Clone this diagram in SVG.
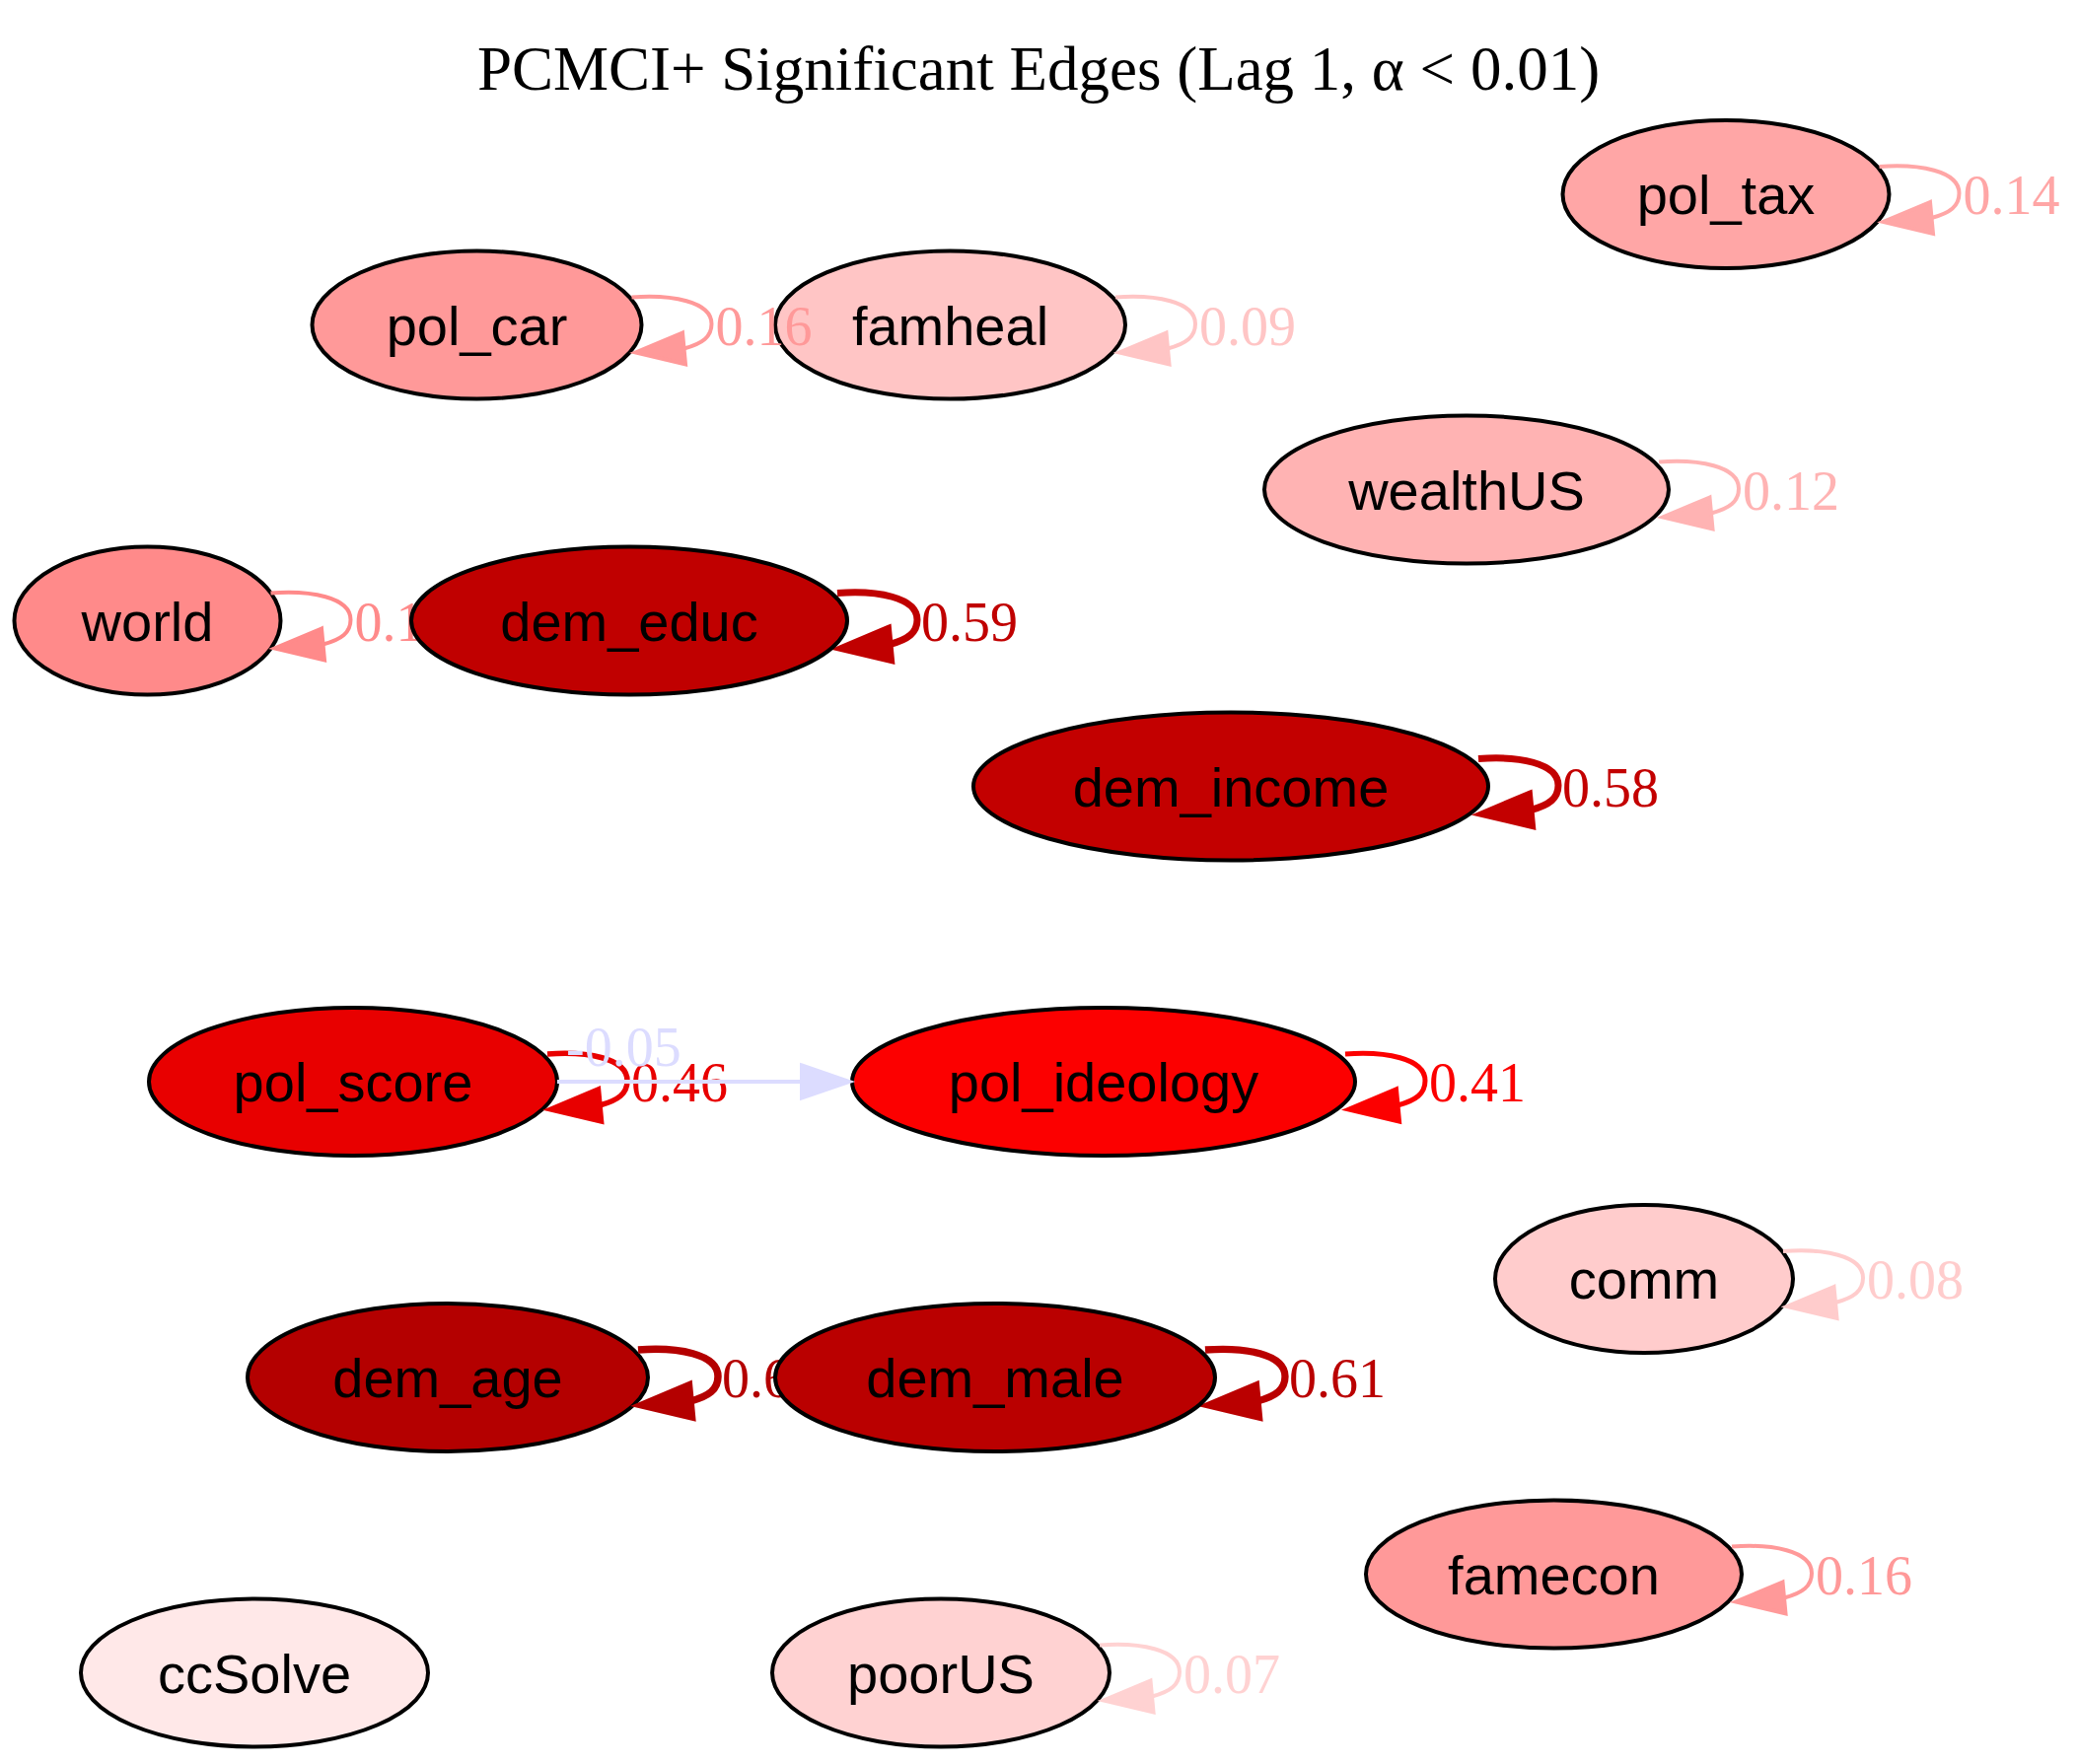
<svg xmlns="http://www.w3.org/2000/svg" width="2107" height="1789" viewBox="0 0 2107 1789">
<style>
.node ellipse{stroke:#000;stroke-width:4}
.node text{font-family:"Liberation Sans",Arial,sans-serif;font-size:56px;text-anchor:middle;fill:#000}
.edge path{fill:none}
.edge text{font-family:"Liberation Serif","Times New Roman",serif;font-size:56px}
.title{font-family:"Liberation Serif","Times New Roman",serif;font-size:63px;text-anchor:middle;fill:#000}
</style>
<rect width="2107" height="1789" fill="#fff"/>
<text class="title" x="1053" y="91">PCMCI+ Significant Edges (Lag 1, α &lt; 0.01)</text>

<g id="node-pol_tax" class="node"><ellipse cx="1750" cy="197" rx="165.5" ry="75" fill="#ffa6a6"/><text x="1750" y="217">pol_tax</text></g>
<g id="node-pol_car" class="node"><ellipse cx="483.5" cy="329.5" rx="167" ry="75" fill="#ff9999"/><text x="483.5" y="349.5">pol_car</text></g>
<g id="node-famheal" class="node"><ellipse cx="963.5" cy="329.5" rx="177.5" ry="75" fill="#ffc5c5"/><text x="963.5" y="349.5">famheal</text></g>
<g id="node-wealthUS" class="node"><ellipse cx="1487" cy="496.5" rx="205" ry="75" fill="#ffb3b3"/><text x="1487" y="516.5">wealthUS</text></g>
<g id="node-world" class="node"><ellipse cx="149.5" cy="629.5" rx="135" ry="75" fill="#ff8a8a"/><text x="149.5" y="649.5">world</text></g>
<g id="node-dem_income" class="node"><ellipse cx="1248" cy="797.5" rx="261" ry="75" fill="#c30000"/><text x="1248" y="817.5">dem_income</text></g>
<g id="node-pol_score" class="node"><ellipse cx="358" cy="1097" rx="207" ry="75" fill="#e80000"/><text x="358" y="1117">pol_score</text></g>
<g id="node-pol_ideology" class="node"><ellipse cx="1119" cy="1097" rx="255" ry="75" fill="#fc0000"/><text x="1119" y="1117">pol_ideology</text></g>
<g id="node-comm" class="node"><ellipse cx="1667" cy="1297" rx="151" ry="75" fill="#ffcccc"/><text x="1667" y="1317">comm</text></g>
<g id="node-dem_age" class="node"><ellipse cx="454" cy="1397" rx="203" ry="75" fill="#b40000"/><text x="454" y="1417">dem_age</text></g>
<g id="node-famecon" class="node"><ellipse cx="1575.5" cy="1596.5" rx="190.5" ry="75" fill="#ff9999"/><text x="1575.5" y="1616.5">famecon</text></g>
<g id="node-ccSolve" class="node"><ellipse cx="258" cy="1696.5" rx="176" ry="75" fill="#ffe8e8"/><text x="258" y="1716.5">ccSolve</text></g>
<g id="node-poorUS" class="node"><ellipse cx="954" cy="1696.5" rx="171" ry="75" fill="#ffd2d2"/><text x="954" y="1716.5">poorUS</text></g>

<g id="connectors">
<g class="edge" id="edge-pol_tax"><path d="M1905.5,169 C1945.5,166 1986.5,173 1986.5,196 C1986.5,209 1977.5,216 1958.5,221" stroke="#ffa6a6" stroke-width="4"/><polygon points="1957,205 1909.5,225 1960,237" fill="#ffa6a6" stroke="#ffa6a6" stroke-width="4"/><text x="1990.5" y="217" fill="#ffa6a6">0.14</text></g>
<g class="edge" id="edge-pol_car"><path d="M640.5,301.5 C680.5,298.5 721.5,305.5 721.5,328.5 C721.5,341.5 712.5,348.5 693.5,353.5" stroke="#ff9999" stroke-width="4"/><polygon points="692,337.5 644.5,357.5 695,369.5" fill="#ff9999" stroke="#ff9999" stroke-width="4"/><text x="725.5" y="349.5" fill="#ff9999">0.16</text></g>
<g class="edge" id="edge-famheal"><path d="M1131,301.5 C1171,298.5 1212,305.5 1212,328.5 C1212,341.5 1203,348.5 1184,353.5" stroke="#ffc5c5" stroke-width="4"/><polygon points="1182.5,337.5 1135,357.5 1185.5,369.5" fill="#ffc5c5" stroke="#ffc5c5" stroke-width="4"/><text x="1216" y="349.5" fill="#ffc5c5">0.09</text></g>
<g class="edge" id="edge-wealthUS"><path d="M1682,468.5 C1722,465.5 1763,472.5 1763,495.5 C1763,508.5 1754,515.5 1735,520.5" stroke="#ffb3b3" stroke-width="4"/><polygon points="1733.5,504.5 1686,524.5 1736.5,536.5" fill="#ffb3b3" stroke="#ffb3b3" stroke-width="4"/><text x="1767" y="516.5" fill="#ffb3b3">0.12</text></g>
<g class="edge" id="edge-world"><path d="M274.5,601.5 C314.5,598.5 355.5,605.5 355.5,628.5 C355.5,641.5 346.5,648.5 327.5,653.5" stroke="#ff8a8a" stroke-width="4"/><polygon points="326,637.5 278.5,657.5 329,669.5" fill="#ff8a8a" stroke="#ff8a8a" stroke-width="4"/><text x="359.5" y="649.5" fill="#ff8a8a">0.18</text></g>
<g class="edge" id="edge-dem_educ"><path d="M849,601.5 C889,598.5 930,605.5 930,628.5 C930,641.5 921,648.5 902,653.5" stroke="#c00000" stroke-width="7"/><polygon points="900.5,637.5 853,657.5 903.5,669.5" fill="#c00000" stroke="#c00000" stroke-width="7"/><text x="934" y="649.5" fill="#c00000">0.59</text></g>
<g class="edge" id="edge-dem_income"><path d="M1499,769.5 C1539,766.5 1580,773.5 1580,796.5 C1580,809.5 1571,816.5 1552,821.5" stroke="#c30000" stroke-width="7"/><polygon points="1550.5,805.5 1503,825.5 1553.5,837.5" fill="#c30000" stroke="#c30000" stroke-width="7"/><text x="1584" y="817.5" fill="#c30000">0.58</text></g>
<g class="edge" id="edge-pol_score"><path d="M555,1069 C595,1066 636,1073 636,1096 C636,1109 627,1116 608,1121" stroke="#e80000" stroke-width="5.5"/><polygon points="606.5,1105 559,1125 609.5,1137" fill="#e80000" stroke="#e80000" stroke-width="5.5"/><text x="640" y="1117" fill="#e80000">0.46</text></g>
<g class="edge" id="edge-pol_score-pol_ideology"><path d="M565,1097 L813,1097" stroke="#dcdcff" stroke-width="4"/><polygon points="813,1080.5 861,1097 813,1113.5" fill="#dcdcff" stroke="#dcdcff" stroke-width="4"/><text x="574" y="1081" fill="#dcdcff">-0.05</text></g>
<g class="edge" id="edge-pol_ideology"><path d="M1364,1069 C1404,1066 1445,1073 1445,1096 C1445,1109 1436,1116 1417,1121" stroke="#fc0000" stroke-width="5"/><polygon points="1415.5,1105 1368,1125 1418.5,1137" fill="#fc0000" stroke="#fc0000" stroke-width="5"/><text x="1449" y="1117" fill="#fc0000">0.41</text></g>
<g class="edge" id="edge-comm"><path d="M1808,1269 C1848,1266 1889,1273 1889,1296 C1889,1309 1880,1316 1861,1321" stroke="#ffcccc" stroke-width="4"/><polygon points="1859.5,1305 1812,1325 1862.5,1337" fill="#ffcccc" stroke="#ffcccc" stroke-width="4"/><text x="1893" y="1317" fill="#ffcccc">0.08</text></g>
<g class="edge" id="edge-dem_age"><path d="M647,1369 C687,1366 728,1373 728,1396 C728,1409 719,1416 700,1421" stroke="#b40000" stroke-width="7.5"/><polygon points="698.5,1405 651,1425 701.5,1437" fill="#b40000" stroke="#b40000" stroke-width="7.5"/><text x="732" y="1417" fill="#b40000">0.63</text></g>
<g class="edge" id="edge-dem_male"><path d="M1222,1369 C1262,1366 1303,1373 1303,1396 C1303,1409 1294,1416 1275,1421" stroke="#ba0000" stroke-width="7.3"/><polygon points="1273.5,1405 1226,1425 1276.5,1437" fill="#ba0000" stroke="#ba0000" stroke-width="7.3"/><text x="1307" y="1417" fill="#ba0000">0.61</text></g>
<g class="edge" id="edge-famecon"><path d="M1756,1568.5 C1796,1565.5 1837,1572.5 1837,1595.5 C1837,1608.5 1828,1615.5 1809,1620.5" stroke="#ff9999" stroke-width="4"/><polygon points="1807.5,1604.5 1760,1624.5 1810.5,1636.5" fill="#ff9999" stroke="#ff9999" stroke-width="4"/><text x="1841" y="1616.5" fill="#ff9999">0.16</text></g>
<g class="edge" id="edge-poorUS"><path d="M1115,1668.5 C1155,1665.5 1196,1672.5 1196,1695.5 C1196,1708.5 1187,1715.5 1168,1720.5" stroke="#ffd2d2" stroke-width="4"/><polygon points="1166.5,1704.5 1119,1724.5 1169.5,1736.5" fill="#ffd2d2" stroke="#ffd2d2" stroke-width="4"/><text x="1200" y="1716.5" fill="#ffd2d2">0.07</text></g>
</g>

<g id="node-dem_educ" class="node"><ellipse cx="638" cy="629.5" rx="221" ry="75" fill="#c00000"/><text x="638" y="649.5">dem_educ</text></g>
<g id="node-dem_male" class="node"><ellipse cx="1009" cy="1397" rx="223" ry="75" fill="#ba0000"/><text x="1009" y="1417">dem_male</text></g>
</svg>
